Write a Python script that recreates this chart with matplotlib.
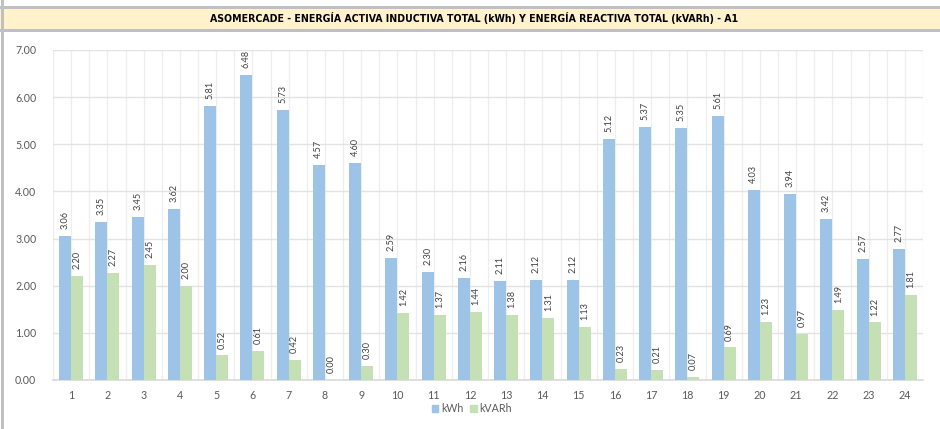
import matplotlib
matplotlib.use("Agg")
import matplotlib.pyplot as plt
from matplotlib.patches import Rectangle
import numpy as np

# chart data
hours = [str(h) for h in range(1, 25)]
kwh = [3.06, 3.35, 3.45, 3.62, 5.81, 6.48, 5.73, 4.57, 4.60, 2.59, 2.30, 2.16,
       2.11, 2.12, 2.12, 5.12, 5.37, 5.35, 5.61, 4.03, 3.94, 3.42, 2.57, 2.77]
kvarh = [2.20, 2.27, 2.45, 2.00, 0.52, 0.61, 0.42, 0.00, 0.30, 1.42, 1.37, 1.44,
         1.38, 1.31, 1.13, 0.23, 0.21, 0.07, 0.69, 1.23, 0.97, 1.49, 1.22, 1.81]
series_names = ["kWh", "kVARh"]
title = "ASOMERCADE - ENERGÍA ACTIVA INDUCTIVA TOTAL (kWh) Y ENERGÍA REACTIVA TOTAL (kVARh) - A1"

blue = "#9DC3E6"
green = "#C5E0B4"
text_gray = "#595959"
grid_gray = "#E3E3E3"

plt.rcParams['font.family'] = ['Lato', 'DejaVu Sans']

fig = plt.figure(figsize=(9.4, 4.29), dpi=100)

# spreadsheet frame around the chart: banner with title, left border
W, H = 940, 429
frame = fig.add_axes([0, 0, 1, 1])
frame.set_xlim(0, W)
frame.set_ylim(H, 0)
frame.axis("off")
frame.add_patch(Rectangle((0, 6), W, 3, color="#C0C0C0", lw=0))
frame.add_patch(Rectangle((0, 9), W, 20, color="#FFF2CC", lw=0))
frame.add_patch(Rectangle((0, 29), W, 3, color="#C0C0C0", lw=0))
frame.add_patch(Rectangle((1, 0), 3, H, color="#C0C0C0", lw=0))
frame.text(474, 18.5, title, ha="center", va="center", fontsize=7.6,
           fontweight="bold", family="DejaVu Sans", fontstretch="condensed",
           color="black")

ax = fig.add_axes([53 / W, 1 - 380 / H, 870 / W, 330 / H])
x = np.arange(1, len(hours) + 1)
w = 1 / 3
b1 = ax.bar(x - w / 2, kwh, width=w, color=blue, zorder=3)
b2 = ax.bar(x + w / 2, kvarh, width=w, color=green, zorder=3)

for bars, vals in ((b1, kwh), (b2, kvarh)):
    for r, v in zip(bars, vals):
        ax.annotate(f"{v:.2f}", (r.get_x() + r.get_width() / 2, v),
                    xytext=(0, 5), textcoords="offset points", rotation=90,
                    ha="center", va="bottom", fontsize=6.6, color="#404040")

ax.set_xlim(0.5, len(hours) + 0.5)
ax.set_ylim(0, 7)
ax.set_yticks(np.arange(0, 7.01, 1))
ax.set_yticklabels([f"{t:.2f}" for t in np.arange(0, 7.01, 1)])
ax.set_xticks(x)
ax.set_xticklabels(hours)
ax.set_xticks(np.arange(0.5, len(hours) + 1, 1), minor=True)
ax.tick_params(axis="both", which="both", length=0, labelsize=7.7, colors=text_gray)
ax.tick_params(axis="y", pad=12)
ax.tick_params(axis="x", pad=7)
ax.grid(True, axis="y", color=grid_gray, lw=1, zorder=0)
ax.grid(True, axis="x", which="both", color="#EEEEEE", lw=0.9, zorder=0)
for s in ("top", "right", "left"):
    ax.spines[s].set_visible(False)
ax.spines["bottom"].set_color("#D9D9D9")
ax.spines["bottom"].set_linewidth(1.2)

handles = [Rectangle((0, 0), 1, 1, color=blue), Rectangle((0, 0), 1, 1, color=green)]
fig.legend(handles, series_names, loc="center", bbox_to_anchor=(472 / W, 1 - 409 / H),
           ncol=2, frameon=False, fontsize=7.7, handlelength=0.6, handleheight=0.6,
           handletextpad=0.3, columnspacing=0.6, labelcolor=text_gray)

fig.savefig("out.png", dpi=100)
